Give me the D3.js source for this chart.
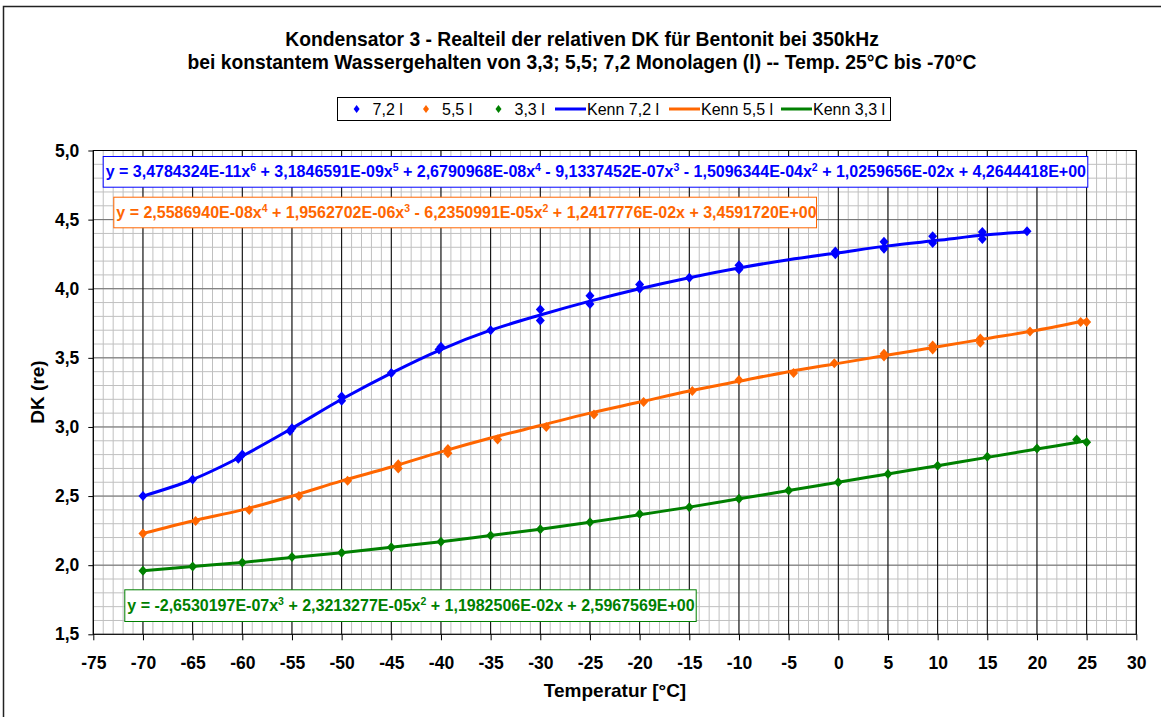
<!DOCTYPE html>
<html>
<head>
<meta charset="utf-8">
<script src="https://cdn.jsdelivr.net/npm/d3@7/dist/d3.min.js"></script>
<style>
body { margin: 0; background: #fff; }
text { font-family: "Liberation Sans", Arial, sans-serif; }
</style>
</head>
<body>
<div id="chart"></div>
<script>
var width = 1161,
  height = 717;

// measured points (temperature, DK)
var temp72 = [-70, -65, -60.4, -60, -55.2, -55, -50, -50, -45, -40.2, -40, -35, -30, -30, -25, -25, -20, -20, -15, -10, -10, -0.3, -0.3, 4.6, 4.6, 9.5, 9.5, 14.5, 14.5, 19];
var dk72 = [2.50, 2.62, 2.77, 2.80, 2.97, 2.99, 3.19, 3.22, 3.39, 3.56, 3.58, 3.70, 3.77, 3.85, 3.89, 3.95, 4.00, 4.03, 4.08, 4.14, 4.17, 4.25, 4.27, 4.29, 4.34, 4.33, 4.38, 4.36, 4.41, 4.415];

var temp55 = [-70, -64.7, -59.3, -54.3, -49.4, -44.3, -44.3, -39.3, -39.3, -34.3, -29.4, -24.6, -19.6, -14.7, -10, -4.5, -0.4, 4.6, 4.6, 9.5, 9.5, 14.3, 14.3, 19.3, 24.4, 25];
var dk55 = [2.23, 2.32, 2.40, 2.50, 2.61, 2.70, 2.73, 2.81, 2.84, 2.91, 3.00, 3.09, 3.18, 3.26, 3.34, 3.39, 3.46, 3.51, 3.53, 3.56, 3.59, 3.61, 3.64, 3.69, 3.76, 3.76];

var temp33 = [-70, -65, -60, -55, -50, -45, -40, -35, -30, -25, -20, -15, -10, -5, 0, 5, 10, 15, 20, 24, 25];
var dk33 = [1.96, 1.99, 2.02, 2.06, 2.09, 2.13, 2.17, 2.215, 2.26, 2.31, 2.37, 2.42, 2.48, 2.54, 2.60, 2.66, 2.72, 2.785, 2.845, 2.91, 2.89];

// characteristic curves (Kenn)
var kennTemp72 = [-70, -65, -60, -55, -50, -45, -40, -35, -30, -25, -20, -15, -10, -5, 0, 5, 10, 15, 19];
var kenn72 = [2.50, 2.62, 2.79, 2.99, 3.20, 3.39, 3.56, 3.70, 3.81, 3.91, 4.00, 4.08, 4.15, 4.21, 4.26, 4.31, 4.35, 4.39, 4.41];
var kennTemp = [-70, -65, -60, -55, -50, -45, -40, -35, -30, -25, -20, -15, -10, -5, 0, 5, 10, 15, 20, 25];
var kenn55 = [2.23, 2.32, 2.40, 2.50, 2.61, 2.71, 2.82, 2.92, 3.01, 3.10, 3.18, 3.26, 3.33, 3.40, 3.46, 3.52, 3.58, 3.64, 3.70, 3.77];
var kenn33 = [1.96, 1.99, 2.02, 2.055, 2.09, 2.13, 2.17, 2.215, 2.26, 2.31, 2.365, 2.42, 2.48, 2.54, 2.60, 2.66, 2.72, 2.78, 2.84, 2.90];

var tempTicks = [-75, -70, -65, -60, -55, -50, -45, -40, -35, -30, -25, -20, -15, -10, -5, 0, 5, 10, 15, 20, 25, 30];
var dkTicks = [1.5, 2.0, 2.5, 3.0, 3.5, 4.0, 4.5, 5.0];

var seriesNames = ['7,2 l', '5,5 l', '3,3 l'];
var colors = ['#0000ff', '#ff6600', '#008000'];

var titleLines = [
  'Kondensator 3 - Realteil der relativen DK für Bentonit bei 350kHz',
  'bei konstantem Wassergehalten von 3,3; 5,5; 7,2 Monolagen (l) -- Temp. 25°C bis -70°C'
];

// trendline equations: [text, superscript]
var eq72 = [['y = 3,4784324E-11x', '6'], [' + 3,1846591E-09x', '5'], [' + 2,6790968E-08x', '4'], [' - 9,1337452E-07x', '3'], [' - 1,5096344E-04x', '2'], [' + 1,0259656E-02x + 4,2644418E+00', '']];
var eq55 = [['y = 2,5586940E-08x', '4'], [' + 1,9562702E-06x', '3'], [' - 6,2350991E-05x', '2'], [' + 1,2417776E-02x + 3,4591720E+00', '']];
var eq33 = [['y = -2,6530197E-07x', '3'], [' + 2,3213277E-05x', '2'], [' + 1,1982506E-02x + 2,5967569E+00', '']];

var x = d3.scaleLinear().domain([-75, 30]).range([93.3, 1136.3]);
var y = d3.scaleLinear().domain([1.5, 5]).range([634.3, 150.5]);

var svg = d3.select('#chart')
  .append('svg')
  .attr('width', width)
  .attr('height', height);

// chart frame
svg.append('rect')
  .attr('x', 3.5).attr('y', 6.5)
  .attr('width', 1200).attr('height', 800)
  .attr('fill', '#fff')
  .attr('stroke', '#222')
  .attr('stroke-width', 1.5);

// title
svg.append('g')
  .selectAll('text')
  .data(titleLines)
  .enter()
  .append('text')
  .attr('x', 582)
  .attr('y', function (d, i) { return 46 + i * 23; })
  .attr('text-anchor', 'middle')
  .style('font-size', '19.3px')
  .style('font-weight', 'bold')
  .text(function (d) { return d; });

// grid
var grid = svg.append('g');
grid.selectAll('.vminor')
  .data(d3.range(-75, 31))
  .enter()
  .append('line')
  .attr('x1', function (d) { return x(d); })
  .attr('x2', function (d) { return x(d); })
  .attr('y1', y(1.5)).attr('y2', y(5))
  .attr('stroke', '#c0c0c0');
grid.selectAll('.hminor')
  .data(d3.range(15, 51).map(function (d) { return d / 10; }))
  .enter()
  .append('line')
  .attr('x1', x(-75)).attr('x2', x(30))
  .attr('y1', function (d) { return y(d); })
  .attr('y2', function (d) { return y(d); })
  .attr('stroke', '#c0c0c0');
grid.selectAll('.hmajor')
  .data(dkTicks)
  .enter()
  .append('line')
  .attr('x1', x(-75)).attr('x2', x(30))
  .attr('y1', function (d) { return y(d); })
  .attr('y2', function (d) { return y(d); })
  .attr('stroke', '#707070');
grid.selectAll('.vmajor')
  .data(tempTicks)
  .enter()
  .append('line')
  .attr('x1', function (d) { return x(d); })
  .attr('x2', function (d) { return x(d); })
  .attr('y1', y(1.5)).attr('y2', y(5))
  .attr('stroke', '#000');

svg.append('rect')
  .attr('x', x(-75)).attr('y', y(5))
  .attr('width', x(30) - x(-75)).attr('height', y(1.5) - y(5))
  .attr('fill', 'none')
  .attr('stroke', '#000');

// axes
var fmtDK = function (d) { return d3.format('.1f')(d).replace('.', ','); };
var fmtT = function (d) { return String(d); };

var xAxis = svg.append('g')
  .attr('transform', 'translate(0,' + y(1.5) + ')')
  .call(d3.axisBottom(x).tickValues(tempTicks).tickSize(6).tickPadding(16).tickFormat(fmtT));
var yAxis = svg.append('g')
  .attr('transform', 'translate(' + x(-75) + ',0)')
  .call(d3.axisLeft(y).tickValues(dkTicks).tickSize(5).tickPadding(9).tickFormat(fmtDK));

[xAxis, yAxis].forEach(function (a) {
  a.select('.domain').remove();
  a.selectAll('line').attr('stroke', '#000');
  a.selectAll('text')
    .style('font-family', '"Liberation Sans", Arial, sans-serif')
    .style('font-size', '17.5px')
    .style('font-weight', 'bold')
    .attr('fill', '#000');
});

svg.append('text')
  .attr('x', 615).attr('y', 697)
  .attr('text-anchor', 'middle')
  .style('font-size', '19px')
  .style('font-weight', 'bold')
  .text('Temperatur [°C]');

svg.append('text')
  .attr('transform', 'translate(44,392) rotate(-90)')
  .attr('text-anchor', 'middle')
  .style('font-size', '19px')
  .style('font-weight', 'bold')
  .text('DK (re)');

// curves
var line = d3.line()
  .x(function (d) { return x(d[0]); })
  .y(function (d) { return y(d[1]); })
  .curve(d3.curveCatmullRom);

var kenn = [d3.zip(kennTemp72, kenn72), d3.zip(kennTemp, kenn55), d3.zip(kennTemp, kenn33)];
var points = [d3.zip(temp72, dk72), d3.zip(temp55, dk55), d3.zip(temp33, dk33)];

var diamond = 'M0,-5L4.5,0L0,5L-4.5,0Z';

points.forEach(function (pts, i) {
  svg.append('g')
    .selectAll('path')
    .data(pts)
    .enter()
    .append('path')
    .attr('d', diamond)
    .attr('transform', function (d) { return 'translate(' + x(d[0]) + ',' + y(d[1]) + ')'; })
    .attr('fill', colors[i]);
});

kenn.forEach(function (k, i) {
  svg.append('path')
    .datum(k)
    .attr('d', line)
    .attr('fill', 'none')
    .attr('stroke', colors[i])
    .attr('stroke-width', 3);
});

// equation labels
var eqBoxes = [
  { eq: eq72, x: 102.7, y: 156, w: 984.6, h: 30.7 },
  { eq: eq55, x: 113.3, y: 196.7, w: 702.7, h: 30.6 },
  { eq: eq33, x: 124.3, y: 589.3, w: 571.4, h: 31.7 }
];

eqBoxes.forEach(function (b, i) {
  var g = svg.append('g');
  g.append('rect')
    .attr('x', b.x + 0.5).attr('y', b.y + 0.5)
    .attr('width', b.w).attr('height', b.h)
    .attr('fill', '#fff')
    .attr('stroke', colors[i]);
  var t = g.append('text')
    .attr('x', b.x + 3)
    .attr('y', b.y + b.h / 2 + 6)
    .attr('fill', colors[i])
    .style('font-size', '16px')
    .style('font-weight', 'bold');
  var raised = false;
  b.eq.forEach(function (part) {
    t.append('tspan')
      .attr('dy', raised ? 6 : 0)
      .text(part[0]);
    raised = false;
    if (part[1]) {
      t.append('tspan')
        .attr('dy', -6)
        .style('font-size', '10.5px')
        .text(part[1]);
      raised = true;
    }
  });
});

// legend
var legend = svg.append('g');
legend.append('rect')
  .attr('x', 337.5).attr('y', 97.5)
  .attr('width', 553).attr('height', 23)
  .attr('fill', '#fff')
  .attr('stroke', '#000');

var markerX = [356.6, 426, 498.5];
var lineX = [555, 669, 781];

seriesNames.forEach(function (name, i) {
  legend.append('path')
    .attr('d', 'M0,-4L3,0L0,4L-3,0Z')
    .attr('transform', 'translate(' + markerX[i] + ',109)')
    .attr('fill', colors[i]);
  legend.append('text')
    .attr('x', markerX[i] + 16).attr('y', 115)
    .style('font-size', '16px')
    .text(name);
  legend.append('line')
    .attr('x1', lineX[i]).attr('x2', lineX[i] + 31)
    .attr('y1', 109).attr('y2', 109)
    .attr('stroke', colors[i])
    .attr('stroke-width', 3);
  legend.append('text')
    .attr('x', lineX[i] + 32).attr('y', 115)
    .style('font-size', '16px')
    .text('Kenn ' + name);
});
</script>
</body>
</html>
